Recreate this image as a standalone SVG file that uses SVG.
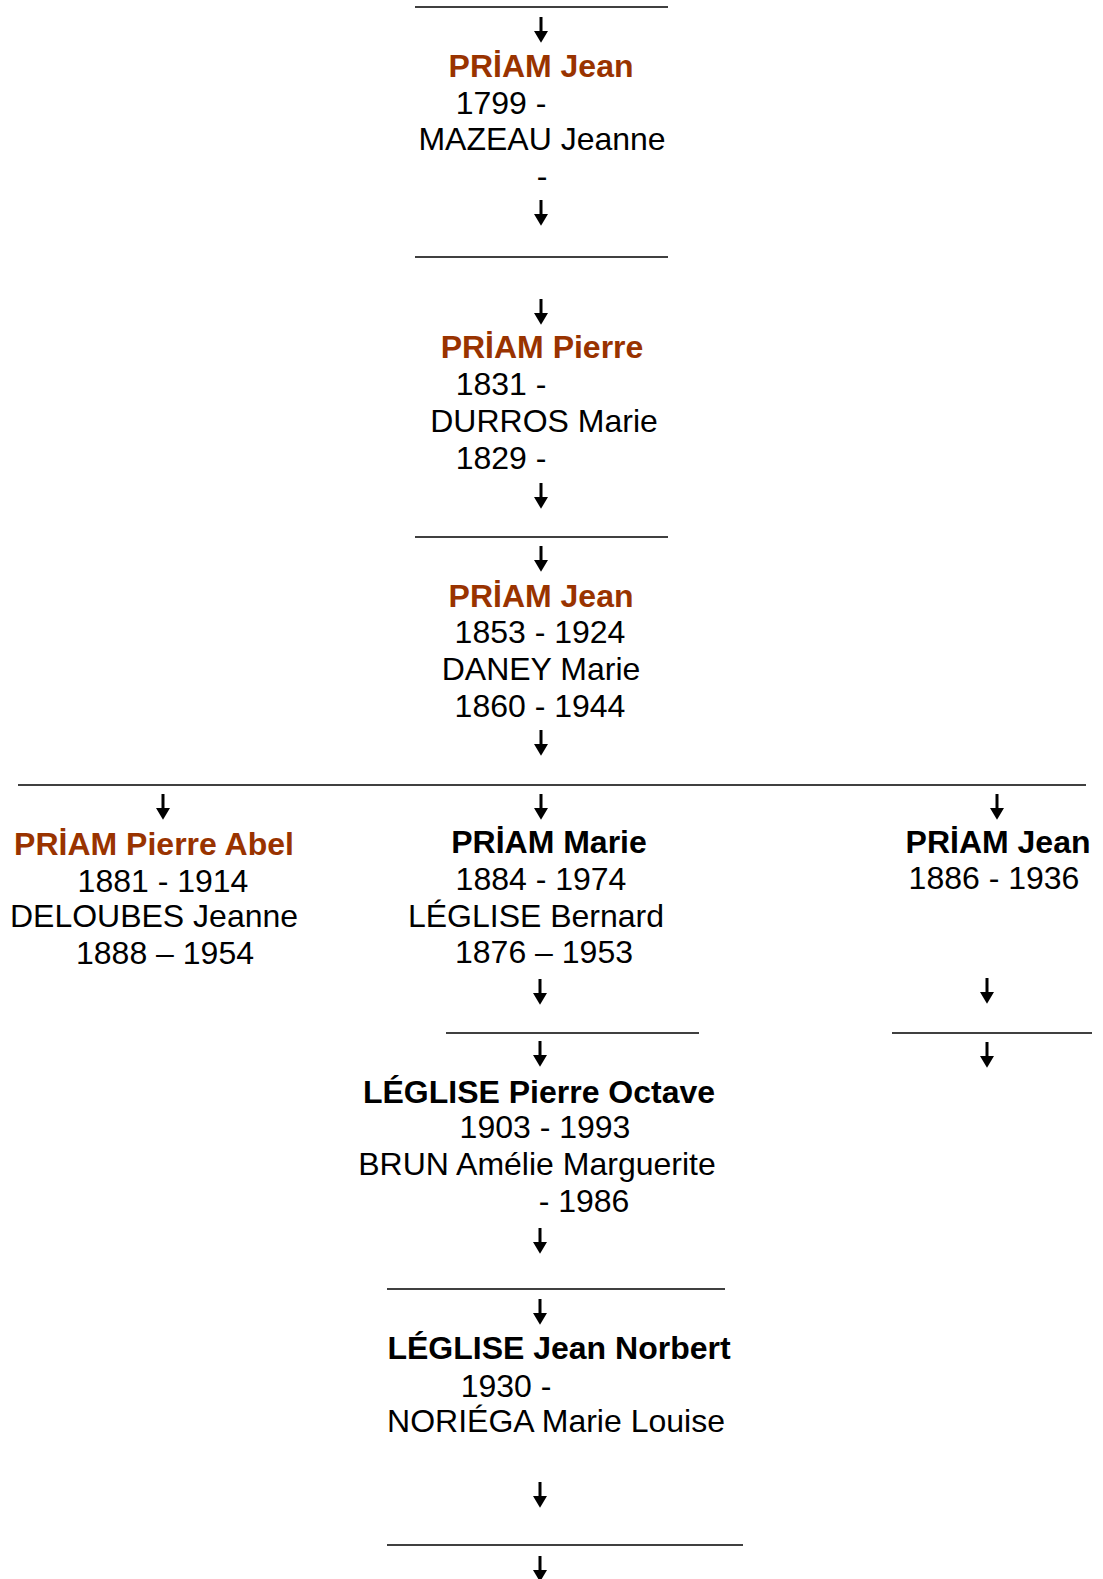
<svg xmlns="http://www.w3.org/2000/svg" width="1103" height="1579" viewBox="0 0 1103 1579">
<style>
text{font-family:"Liberation Sans",Arial,sans-serif;font-size:32px;fill:#000;text-anchor:middle}
.n{font-weight:bold}
.b{fill:#993300}
.rule{stroke:#000;stroke-width:1.4}
.arr{stroke:#000;stroke-width:3;marker-end:url(#ah)}
</style>
<defs>
<marker id="ah" markerUnits="userSpaceOnUse" markerWidth="12" markerHeight="14" refX="0" refY="6.5" viewBox="0 0 11 13" orient="auto">
<path d="M0,0 L11,6.5 L0,13 z" fill="#000"/>
</marker>
</defs>
<rect width="1103" height="1579" fill="#fff"/>
<g id="connectors">
<line class="rule" x1="415" y1="7" x2="668" y2="7"/>
<line class="arr" x1="541" y1="17" x2="541" y2="31"/>
<line class="arr" x1="541" y1="200" x2="541" y2="214"/>
<line class="rule" x1="415" y1="257" x2="668" y2="257"/>
<line class="arr" x1="541" y1="299" x2="541" y2="313"/>
<line class="arr" x1="541" y1="483" x2="541" y2="497"/>
<line class="rule" x1="415" y1="537" x2="668" y2="537"/>
<line class="arr" x1="541" y1="546" x2="541" y2="560"/>
<line class="arr" x1="541" y1="730" x2="541" y2="744"/>
<line class="rule" x1="18" y1="785" x2="1086" y2="785"/>
<line class="arr" x1="163" y1="794" x2="163" y2="808"/>
<line class="arr" x1="541" y1="794" x2="541" y2="808"/>
<line class="arr" x1="997" y1="794" x2="997" y2="808"/>
<line class="arr" x1="540" y1="979" x2="540" y2="993"/>
<line class="rule" x1="446" y1="1033" x2="699" y2="1033"/>
<line class="arr" x1="540" y1="1041" x2="540" y2="1055"/>
<line class="arr" x1="987" y1="978" x2="987" y2="992"/>
<line class="rule" x1="892" y1="1033" x2="1092" y2="1033"/>
<line class="arr" x1="987" y1="1042" x2="987" y2="1056"/>
<line class="arr" x1="540" y1="1228" x2="540" y2="1242"/>
<line class="rule" x1="387" y1="1289" x2="725" y2="1289"/>
<line class="arr" x1="540" y1="1299" x2="540" y2="1313"/>
<line class="arr" x1="540" y1="1482" x2="540" y2="1496"/>
<line class="rule" x1="387" y1="1545" x2="743" y2="1545"/>
<line class="arr" x1="540" y1="1556" x2="540" y2="1570"/>
</g>
<g id="node-priam-jean-1799">
<text class="n b" x="541" y="77">PRİAM Jean</text>
<text x="501" y="114">1799 -</text>
<text x="542" y="150">MAZEAU Jeanne</text>
<text x="542" y="187">-</text>
</g>
<g id="node-priam-pierre-1831">
<text class="n b" x="542" y="358">PRİAM Pierre</text>
<text x="501" y="395">1831 -</text>
<text x="544" y="432">DURROS Marie</text>
<text x="501" y="469">1829 -</text>
</g>
<g id="node-priam-jean-1853">
<text class="n b" x="541" y="607">PRİAM Jean</text>
<text x="540" y="643">1853 - 1924</text>
<text x="541" y="680">DANEY Marie</text>
<text x="540" y="717">1860 - 1944</text>
</g>
<g id="node-priam-pierre-abel">
<text class="n b" x="154" y="855">PRİAM Pierre Abel</text>
<text x="163" y="892">1881 - 1914</text>
<text x="154" y="927">DELOUBES Jeanne</text>
<text x="165" y="964">1888 – 1954</text>
</g>
<g id="node-priam-marie">
<text class="n" x="549" y="853">PRİAM Marie</text>
<text x="541" y="890">1884 - 1974</text>
<text x="536" y="927">LÉGLISE Bernard</text>
<text x="544" y="963">1876 – 1953</text>
</g>
<g id="node-priam-jean-1886">
<text class="n" x="998" y="853">PRİAM Jean</text>
<text x="994" y="889">1886 - 1936</text>
</g>
<g id="node-leglise-pierre-octave">
<text class="n" x="539" y="1103">LÉGLISE Pierre Octave</text>
<text x="545" y="1138">1903 - 1993</text>
<text x="537" y="1175">BRUN Amélie Marguerite</text>
<text x="584" y="1212">- 1986</text>
</g>
<g id="node-leglise-jean-norbert">
<text class="n" x="559" y="1359">LÉGLISE Jean Norbert</text>
<text x="506" y="1397">1930 -</text>
<text x="556" y="1432">NORIÉGA Marie Louise</text>
</g>
</svg>
